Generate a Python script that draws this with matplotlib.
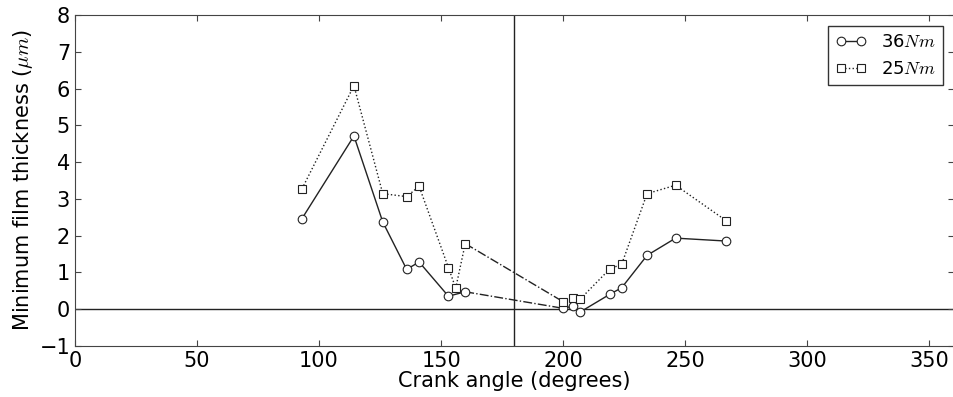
import matplotlib
matplotlib.use('Agg')
import matplotlib.pyplot as plt
import numpy as np

# crank angle (deg) and min film thickness (um)
angle_36 = [93, 114.3, 126.1, 135.9, 141.0, 153.0, 159.9, 200.0, 204.0, 207.0, 219.1, 224.0, 234.4, 246.1, 266.9]
film_36 = [2.46, 4.71, 2.37, 1.08, 1.28, 0.35, 0.47, 0.02, 0.08, -0.08, 0.40, 0.58, 1.46, 1.93, 1.85]

angle_25 = [93, 114.3, 126.1, 135.9, 141.0, 153.0, 156.0, 159.9, 200.0, 204.0, 207.0, 219.1, 224.0, 234.4, 246.1, 266.9]
film_25 = [3.27, 6.08, 3.14, 3.06, 3.34, 1.13, 0.57, 1.78, 0.20, 0.31, 0.27, 1.09, 1.22, 3.14, 3.37, 2.40]

labels = ['36$Nm$', '25$Nm$']
tdc = 180  # gap in measurements around this angle

plt.rcParams['mathtext.fontset'] = 'cm'
plt.rcParams['font.size'] = 12
plt.rcParams['xtick.direction'] = 'in'
plt.rcParams['ytick.direction'] = 'in'
plt.rcParams['xtick.top'] = True
plt.rcParams['ytick.right'] = True

fig = plt.figure(figsize=(9.54, 3.97), dpi=100)
ax = fig.add_axes([0.0786, 0.129, 0.921, 0.833])

col = '#222222'
mk = dict(markerfacecolor='white', markeredgecolor=col, markersize=6.2, markeredgewidth=0.8)


def draw(x, y, marker, ls, label):
    x = np.array(x)
    y = np.array(y)
    lo = x < tdc
    hi = x > tdc
    ax.plot(x[lo], y[lo], color=col, marker=marker, linestyle=ls, lw=1, label=label, **mk)
    ax.plot(x[hi], y[hi], color=col, marker=marker, linestyle=ls, lw=1, **mk)
    # bridge across the gap
    i = np.where(lo)[0][-1]
    ax.plot(x[i:i + 2], y[i:i + 2], color=col, linestyle='-.', lw=1, zorder=1)


draw(angle_36, film_36, 'o', '-', labels[0])
draw(angle_25, film_25, 's', ':', labels[1])

ax.axvline(tdc, color=col, lw=1, zorder=0)
ax.axhline(0, color=col, lw=1, zorder=0)

ax.set_xlim(0, 360)
ax.set_ylim(-1, 8)
ax.set_xticks(np.arange(0, 351, 50))
ax.set_yticks(np.arange(-1, 9, 1))
ax.tick_params(axis='both', labelsize=15, length=4, color='#444444')
for s in ax.spines.values():
    s.set_color('#444444')

ax.set_xlabel('Crank angle (degrees)', fontsize=15, labelpad=0)
ax.set_ylabel('Minimum film thickness ($\\mu m$)', fontsize=15, labelpad=3)

leg = ax.legend(loc='upper right', numpoints=2, fontsize=13, fancybox=False,
                handlelength=1.7, borderaxespad=0.6)
leg.get_frame().set_edgecolor('k')
leg.get_frame().set_linewidth(1)

plt.savefig('out.png', dpi=100)
